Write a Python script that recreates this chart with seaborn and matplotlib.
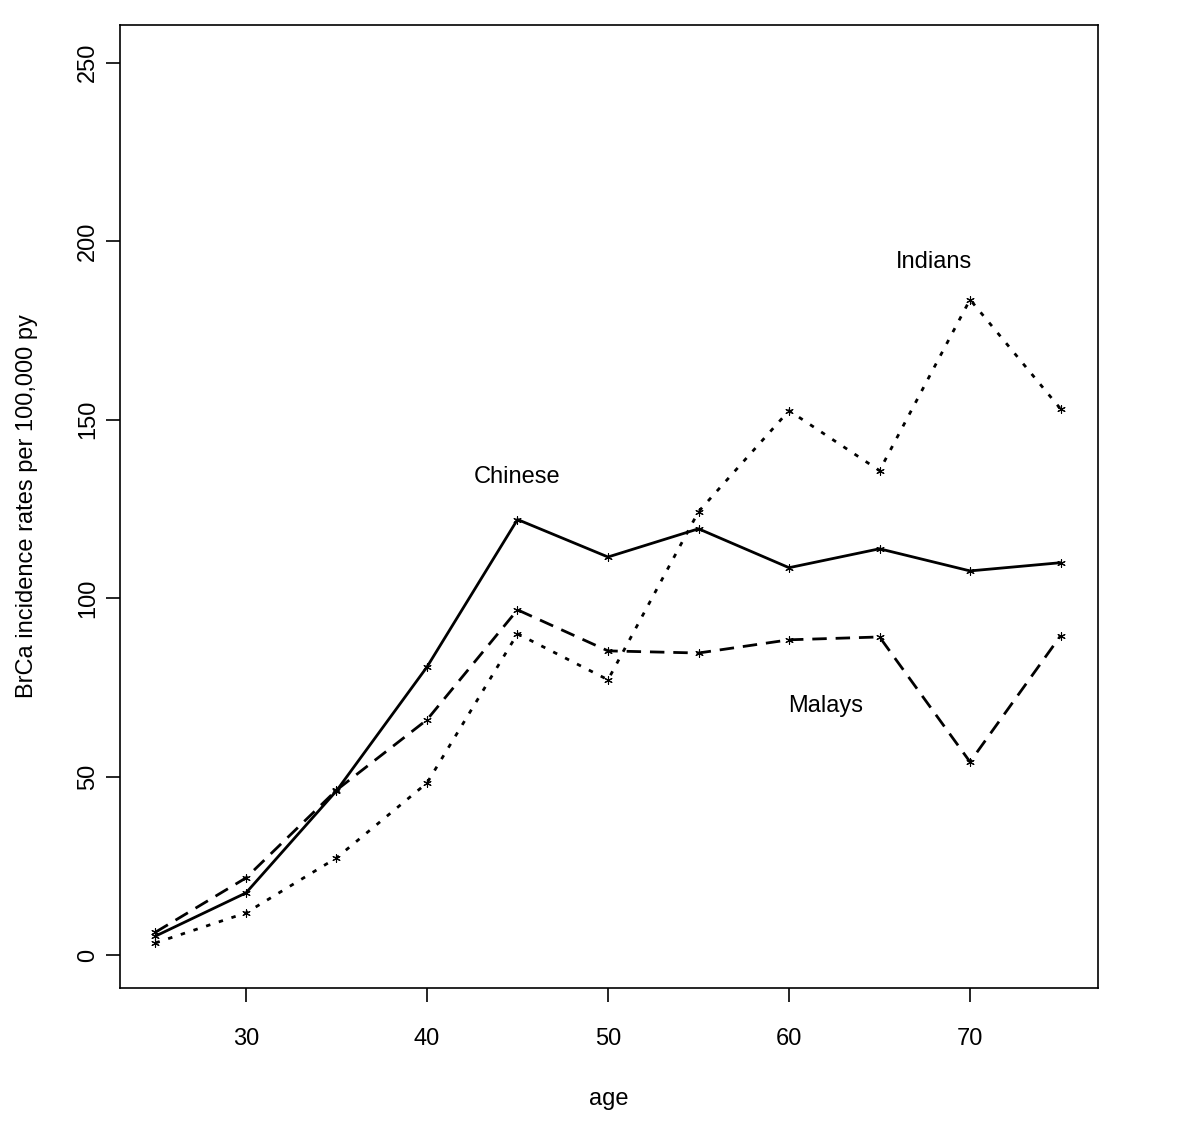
import pandas as pd
import matplotlib
matplotlib.use("Agg")
import matplotlib.pyplot as plt
import seaborn as sns

# Age groups and incidence rates (per 100,000 py)
ages = [25, 30, 35, 40, 45, 50, 55, 60, 65, 70, 75]
chinese = [5.3, 17.4, 46.0, 80.7, 122.0, 111.5, 119.4, 108.5, 113.8, 107.6, 109.9]
malays = [6.4, 21.6, 46.2, 65.9, 96.7, 85.2, 84.6, 88.3, 89.1, 54.1, 89.4]
indians = [3.4, 11.8, 27.2, 48.2, 90.0, 77.1, 124.2, 152.5, 135.7, 183.6, 153.0]

groups = ["Chinese", "Malays", "Indians"]

df = pd.concat([
    pd.DataFrame({"age": ages, "rate": chinese, "group": "Chinese"}),
    pd.DataFrame({"age": ages, "rate": malays, "group": "Malays"}),
    pd.DataFrame({"age": ages, "rate": indians, "group": "Indians"}),
])

sns.set_style("ticks")
plt.rcParams["font.family"] = ["Liberation Sans", "DejaVu Sans"]
plt.rcParams["text.color"] = "black"
plt.rcParams["axes.labelcolor"] = "black"

fig = plt.figure(figsize=(12, 11.4), dpi=100)
ax = fig.add_axes([0.1, 0.1333, 0.815, 0.845])

sns.lineplot(data=df, x="age", y="rate", style="group", style_order=groups,
             dashes={"Chinese": "", "Malays": (5.2, 3.2), "Indians": (1.6, 3.2)},
             color="black", linewidth=2.0, legend=False, ax=ax)
sns.scatterplot(data=df, x="age", y="rate", marker=(6, 2, 0), s=30,
                color="black", linewidth=0.8, legend=False, ax=ax)

# Group labels placed at their positions in data space
ax.text(45, 134, "Chinese", ha="center", va="center", fontsize=17, color="black")
ax.text(68, 194, "Indians", ha="center", va="center", fontsize=17, color="black")
ax.text(62, 69.8, "Malays", ha="center", va="center", fontsize=17, color="black")

ax.set_xlim(23.04, 77.07)
ax.set_ylim(-9.25, 260.6)
ax.set_xticks([30, 40, 50, 60, 70])
ax.set_yticks([0, 50, 100, 150, 200, 250])
ax.tick_params(axis="both", labelsize=17, length=10, width=1.2, direction="out",
               colors="black")
ax.tick_params(axis="x", pad=19)
ax.tick_params(axis="y", pad=5)
for lab in ax.get_yticklabels():
    lab.set_rotation(90)
    lab.set_va("center")
for sp in ax.spines.values():
    sp.set_linewidth(1.2)
    sp.set_color("black")

ax.set_xlabel("age", fontsize=17, labelpad=27)
ax.set_ylabel("BrCa incidence rates per 100,000 py", fontsize=17, labelpad=28)

fig.savefig("out.png", dpi=100)
